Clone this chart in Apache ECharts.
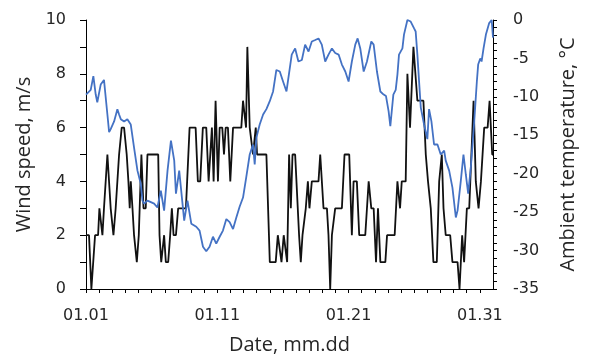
<!DOCTYPE html>
<html>
<head>
<meta charset="utf-8">
<script src="https://cdn.jsdelivr.net/npm/echarts@6/dist/echarts.min.js"></script>
<style>html,body{margin:0;padding:0;background:#fff;}#c{width:591px;height:360px;}</style>
</head>
<body>
<div id="c"></div>
<script>
// Day offset from 01.01 00:00 and wind speed (m/s)
var windDays = [0,0.23,0.41,0.56,0.69,0.92,1.02,1.17,1.25,1.37,1.63,1.88,2.01,2.09,2.26,2.39,2.52,2.72,2.9,3.1,3.23,3.33,3.41,3.54,3.66,3.87,4.02,4.22,4.38,4.55,4.68,5.5,5.6,5.73,5.85,5.95,6.08,6.26,6.41,6.54,6.67,6.85,7.02,7.61,7.71,
7.89,8.35,8.52,8.7,8.9,9.16,9.34,9.47,9.59,9.72,9.87,9.97,10.05,10.18,10.38,10.51,10.64,10.81,10.99,11.09,11.2,11.83,11.96,12.11,12.19,12.29,12.47,12.6,12.72,12.93,13.03,13.74,14.0,14.45,14.61,14.76,14.89,15.06,15.19,15.32,15.47,
15.5,15.6,15.73,15.93,16.23,16.36,16.49,16.74,16.9,17.02,17.2,17.71,17.84,17.96,18.09,18.35,18.47,18.6,18.73,18.98,19.49,19.69,20.05,20.25,20.38,20.63,20.81,21.27,21.53,21.73,21.91,22.09,22.24,22.42,22.8,22.93,23.31,
23.51,23.72,23.92,24.05,24.35,24.48,24.68,24.79,24.94,25.06,25.24,25.7,25.88,26.05,26.26,26.46,26.72,26.9,27.1,27.23,27.4,27.74,27.91,28.3,28.45,28.55,28.65,28.8,29.01,29.19,29.52,29.69,29.9,30.08,30.33,30.59,30.74,30.84,30.94,31.0];
var windSpeed = [2,2,0,0,2,2,3,3,2,3,5,3,3,2,3,3,5,6,6,5,4,3,4,3,2,1,2,5,3,3,5,5,2,1,1,2,1,1,2,3,2,2,3,3,3,
6,6,4,4,6,6,4,4,6,4,7,7,4,6,6,5,6,6,4,4,6,6,7,7,6,9,6,6,5,6,5,5,1,1,2,2,1,2,2,1,5,
5,3,5,5,2,1,2,3,4,3,4,4,5,5,3,3,2,0,2,3,3,5,5,2,4,4,2,2,4,3,3,1,3,1,1,2,2,
2,4,3,4,4,8,6,6,9,9,7,7,5,4,3,1,1,4,5,3,2,2,1,1,0,0,2,1,3,3,7,4,3,4,6,6,7,7,5,5];

// Day offset and ambient temperature (°C)
var tempDays = [0,0.1,0.15,0.36,0.56,0.74,0.86,1.12,1.37,1.5,1.63,1.76,1.88,2.14,2.39,2.52,2.65,2.9,3.15,3.41,3.66,3.92,4.17,4.3,4.43,4.68,4.94,5.19,5.44,5.7,5.95,6.21,6.47,6.72,6.85,7.1,7.35,7.48,7.73,
8.02,8.4,8.65,8.91,9.16,9.41,9.67,9.92,10.18,10.43,10.69,10.94,11.2,11.45,11.7,11.96,12.21,12.47,12.72,12.85,12.98,13.23,13.49,13.74,13.99,14.25,14.5,14.76,15.01,15.27,
15.67,15.93,16.18,16.44,16.69,16.95,17.2,17.46,17.71,17.96,18.22,18.47,18.73,18.98,19.24,19.49,19.75,20.0,20.25,20.51,20.69,20.89,21.15,21.4,21.73,21.91,22.16,22.42,22.67,22.85,23.05,23.18,
23.41,23.59,23.72,23.84,24.1,24.22,24.48,24.73,24.99,25.11,25.24,25.37,25.5,25.75,26.0,26.13,26.31,26.51,26.77,27.02,27.28,27.4,27.66,27.79,27.91,28.17,28.3,28.55,28.75,28.93,29.11,29.31,29.57,29.77,29.87,30.03,30.13,30.28,30.46,30.71,30.9,31.0];
var tempValues = [-9.7,-9.7,-9.5,-9.1,-7.3,-9.7,-10.7,-8.4,-7.8,-8.0,-12.3,-14.6,-14.2,-13.2,-11.6,-12.3,-12.9,-13.2,-12.9,-13.6,-16.6,-19.6,-21.3,-23.5,-23.9,-23.5,-23.7,-23.9,-24.4,-22.2,-24.8,-19.6,-15.7,-18.3,-22.6,-19.6,-23.9,-26.1,-23.5,
-26.5,-26.9,-27.4,-29.5,-30.1,-29.5,-28.2,-29.1,-28.2,-27.4,-25.9,-26.3,-27.2,-25.7,-24.3,-23.1,-20.4,-17.5,-16.2,-18.8,-15.3,-13.6,-12.3,-11.6,-10.6,-9.3,-6.5,-6.7,-8.0,-9.3,
-4.5,-3.7,-5.4,-5.2,-3.2,-4.1,-2.8,-2.6,-2.4,-3.2,-5.4,-4.5,-3.7,-4.3,-4.5,-5.8,-6.7,-8.0,-5.4,-3.2,-2.4,-3.7,-6.7,-5.4,-2.8,-3.2,-6.7,-9.3,-9.7,-9.9,-11.9,-13.8,
-9.7,-9.1,-7.1,-4.5,-3.7,-1.9,0,-0.2,-1.1,-1.5,-4.5,-8.0,-11.4,-13.6,-15.5,-11.6,-13.2,-16.2,-16.2,-17.5,-17.0,-18.3,-19.6,-19.6,-21.8,-25.7,-24.8,-20.9,-17.5,-20.1,-22.6,-19.2,-13.2,-8.0,-5.8,-5.0,-5.4,-3.7,-1.9,-0.4,0,-2.3];

var xLabelDays = [0,10,20,30];
var xLabels = ['01.01','01.11','01.21','01.31'];

function zip(a,b){var r=[];for(var i=0;i<a.length;i++)r.push([a[i],b[i]]);return r;}

var tickFont = {fontFamily:'DejaVu Sans', fontSize:16, color:'#262626'};
var nameFont = {fontFamily:'Open Sans', fontSize:20, color:'#262626'};

var chart = echarts.init(document.getElementById('c'), null, {renderer:'canvas'});
chart.setOption({
  animation:false,
  backgroundColor:'#fff',
  grid:{left:86,right:98,top:20,bottom:67,containLabel:false},
  xAxis:{
    type:'value',min:0,max:31,interval:1,
    name:'Date, mm.dd',nameLocation:'middle',nameGap:46,nameTextStyle:nameFont,
    axisLine:{show:true,lineStyle:{color:'#000',width:1}},
    axisTick:{show:true,inside:false,length:4,lineStyle:{color:'#000'}},
    axisLabel:Object.assign({margin:19,showMaxLabel:false,formatter:function(v){var i=xLabelDays.indexOf(Math.round(v));return i>=0?xLabels[i]:'';}},tickFont),
    splitLine:{show:false}
  },
  yAxis:[{
    type:'value',min:0,max:10,interval:1,position:'left',
    name:'Wind speed, m/s',nameLocation:'middle',nameGap:50,nameTextStyle:nameFont,
    axisLine:{show:true,lineStyle:{color:'#000',width:1}},
    axisTick:{show:true,inside:false,length:6,lineStyle:{color:'#000'}},
    axisLabel:Object.assign({margin:20,formatter:function(v){return v%2===0?String(v):'';}},tickFont),
    splitLine:{show:false}
  },{
    type:'value',min:-35,max:0,interval:1,position:'right',
    name:'Ambient temperature, °C',nameLocation:'middle',nameGap:65,nameTextStyle:nameFont,
    axisLine:{show:true,lineStyle:{color:'#000',width:1}},
    axisTick:{show:true,inside:false,length:4,lineStyle:{color:'#000'}},
    axisLabel:Object.assign({margin:20,align:'left',formatter:function(v){return Math.round(v)%5===0?String(Math.round(v)===0?0:Math.round(v)):'';}},tickFont),
    splitLine:{show:false}
  }],
  series:[{
    name:'Wind speed',type:'line',yAxisIndex:0,data:zip(windDays,windSpeed),
    symbol:'none',lineStyle:{color:'#111',width:1.8},z:2
  },{
    name:'Ambient temperature',type:'line',yAxisIndex:1,data:zip(tempDays,tempValues),
    symbol:'none',lineStyle:{color:'#4472C4',width:1.8},z:3
  }]
});
</script>
</body>
</html>
